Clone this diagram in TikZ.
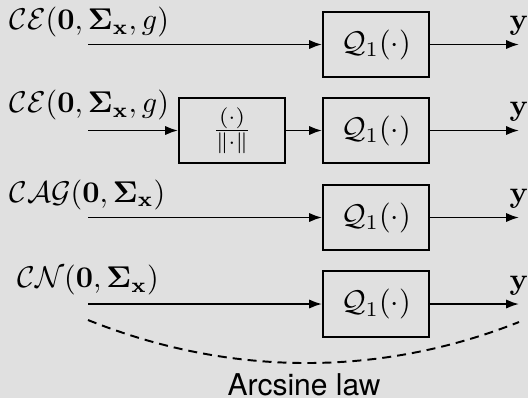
\documentclass[tikz,border=0pt]{standalone}
\usepackage{amsmath}
\usepackage[no-math]{fontspec}
\newfontfamily\capfont{TeX Gyre Heros}
\usetikzlibrary{arrows.meta}
\definecolor{panelgray}{RGB}{224,224,224}

\begin{document}
\begin{tikzpicture}[x=0.3333pt,y=-0.3333pt,
  blk/.style={draw,line width=0.65pt,minimum width=35.3pt,minimum height=21.7pt,inner sep=0pt},
  sig/.style={line width=0.65pt,-{Latex[length=4.3pt,width=3.1pt]}},
  lbl/.style={anchor=base west,inner sep=0pt},
  outl/.style={anchor=base,inner sep=0pt}]

% background panel and page size
\fill[panelgray] (0,0) rectangle (528,398);
\useasboundingbox (0,0) rectangle (528,398);

% row 1: elliptical input straight into the one-bit quantizer
\node[lbl] (l1) at (9,29.5) {$\mathcal{CE}(\mathbf{0},\mathbf{\Sigma}_{\mathbf{x}},g)$};
\coordinate (in1) at (88,44.5);
\node[blk] (q1) at (376,44.5) {$\mathcal{Q}_1(\cdot)$};
\coordinate (out1) at (519,44.5);
\node[outl] (y1) at (519,29.5) {$\mathbf{y}$};
\draw[sig] (in1) -- (q1);
\draw[sig] (q1) -- (out1);

% row 2: elliptical input, normalised first
\node[lbl] (l2) at (9,112.5) {$\mathcal{CE}(\mathbf{0},\mathbf{\Sigma}_{\mathbf{x}},g)$};
\coordinate (in2) at (88,130.5);
\node[blk] (nrm) at (232,130.5) {$\frac{(\cdot)}{\|\cdot\|}$};
\node[blk] (q2) at (376,130.5) {$\mathcal{Q}_1(\cdot)$};
\coordinate (out2) at (519,130.5);
\node[outl] (y2) at (519,115.5) {$\mathbf{y}$};
\draw[sig] (in2) -- (nrm);
\draw[sig] (nrm) -- (q2);
\draw[sig] (q2) -- (out2);

% row 3: angular Gaussian input
\node[lbl] (l3) at (9,202) {$\mathcal{CAG}(\mathbf{0},\mathbf{\Sigma}_{\mathbf{x}})$};
\coordinate (in3) at (88,217.5);
\node[blk] (q3) at (376,217.5) {$\mathcal{Q}_1(\cdot)$};
\coordinate (out3) at (519,217.5);
\node[outl] (y3) at (519,202.5) {$\mathbf{y}$};
\draw[sig] (in3) -- (q3);
\draw[sig] (q3) -- (out3);

% row 4: Gaussian input
\node[lbl] (l4) at (17,287.5) {$\mathcal{CN}(\mathbf{0},\mathbf{\Sigma}_{\mathbf{x}})$};
\coordinate (in4) at (88,304);
\node[blk] (q4) at (376,304) {$\mathcal{Q}_1(\cdot)$};
\coordinate (out4) at (519,304);
\node[outl] (y4) at (519,289) {$\mathbf{y}$};
\draw[sig] (in4) -- (q4);
\draw[sig] (q4) -- (out4);

% dashed arc spanning the bottom row
\coordinate (al) at (88,320);
\coordinate (ar) at (519,322);
\draw[line width=0.65pt,dash pattern=on 3pt off 2pt]
  (al) .. controls (230,377) and (380,377) .. (ar);
\node[anchor=base,inner sep=0pt] (law) at (304,395) {\capfont Arcsine law};
\end{tikzpicture}
\end{document}
